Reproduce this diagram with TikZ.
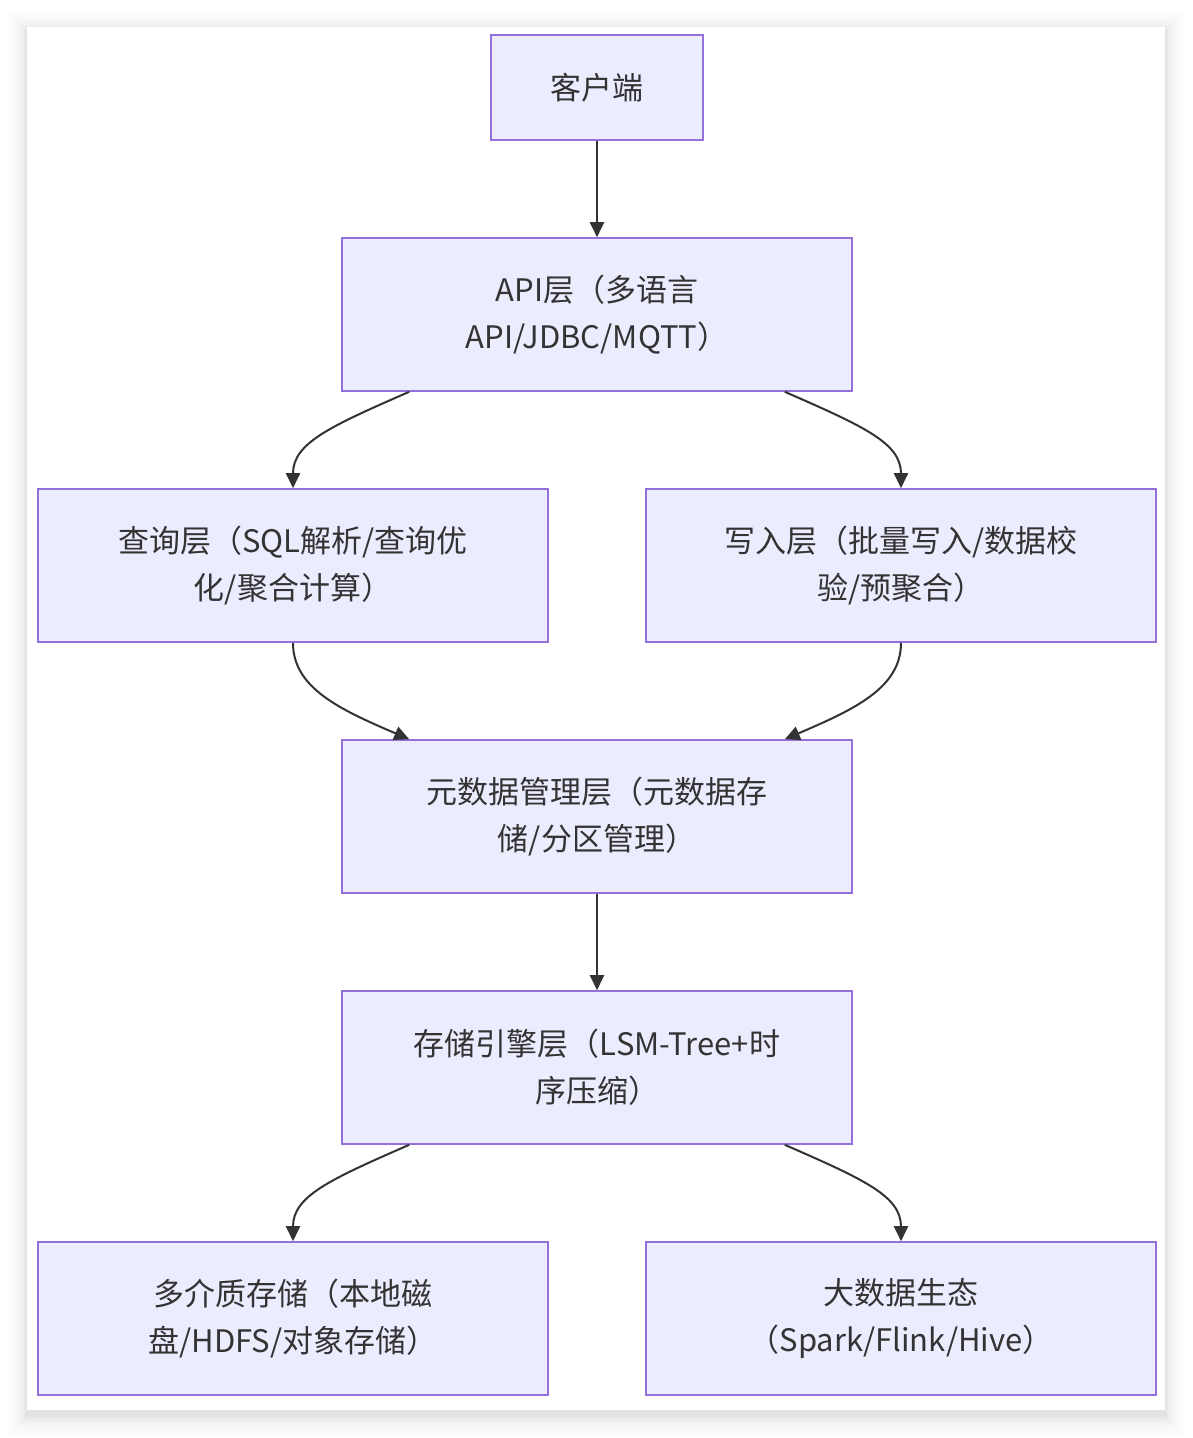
\documentclass[tikz,border=0pt]{standalone}
\usepackage{fontspec}
\setmainfont{Noto Sans CJK SC}
\usetikzlibrary{arrows.meta,calc}
\definecolor{boxfill}{HTML}{ECECFF}
\definecolor{boxline}{HTML}{9370DB}
\definecolor{ink}{HTML}{333333}
\tikzset{
  box/.style={draw=boxline, fill=boxfill, line width=1.6pt, minimum width=510pt, minimum height=153pt,
    align=center, text=ink, font=\fontsize{31}{47}\selectfont, inner sep=0pt},
  smallbox/.style={box, minimum width=212pt, minimum height=105pt},
  conn/.style={draw=ink, line width=2pt, -{Triangle[length=15pt,width=14pt]}}
}
\begin{document}
\begin{tikzpicture}[x=1pt,y=-1pt]
\useasboundingbox (0,0) rectangle (1192,1438);
\fill[white] (0,0) rectangle (1192,1438);
% soft shadow of the card
\foreach \d/\o in {20/0.008,16/0.01,12/0.012,9/0.015,6/0.018,3/0.022,1/0.025}{
  \fill[black,opacity=\o] (27-\d,27-\d+4) rectangle (1165+\d,1410+\d+6);
}
\fill[white] (27,27) rectangle (1165,1410);

\node[smallbox] (client) at (597,87.5) {客户端};
\node[box] (api) at (597,314.5) {API层（多语言\\API/JDBC/MQTT）};
\node[box] (query) at (293,565.5) {查询层（SQL解析/查询优\\化/聚合计算）};
\node[box] (write) at (901,565.5) {写入层（批量写入/数据校\\验/预聚合）};
\node[box] (meta) at (597,816.5) {元数据管理层（元数据存\\储/分区管理）};
\node[box] (store) at (597,1067.5) {存储引擎层（LSM-Tree+时\\序压缩）};
\node[box] (media) at (293,1318.5) {多介质存储（本地磁\\盘/HDFS/对象存储）};
\node[box] (bigdata) at (901,1318.5) {大数据生态\\（Spark/Flink/Hive）};

\draw[conn] (client.south) -- (api.north);

\draw[conn] ($(api.south west)+(68,0)$) .. controls +(-80,35) and +(0,-45) .. (query.north);
\draw[conn] ($(api.south east)+(-68,0)$) .. controls +(80,35) and +(0,-45) .. (write.north);

\draw[conn] (query.south) .. controls +(0,45) and +(-70,-30) .. ($(meta.north west)+(68,0)$);
\draw[conn] (write.south) .. controls +(0,45) and +(70,-30) .. ($(meta.north east)+(-68,0)$);

\draw[conn] (meta.south) -- (store.north);

\draw[conn] ($(store.south west)+(68,0)$) .. controls +(-80,35) and +(0,-45) .. (media.north);
\draw[conn] ($(store.south east)+(-68,0)$) .. controls +(80,35) and +(0,-45) .. (bigdata.north);
\end{tikzpicture}
\end{document}
